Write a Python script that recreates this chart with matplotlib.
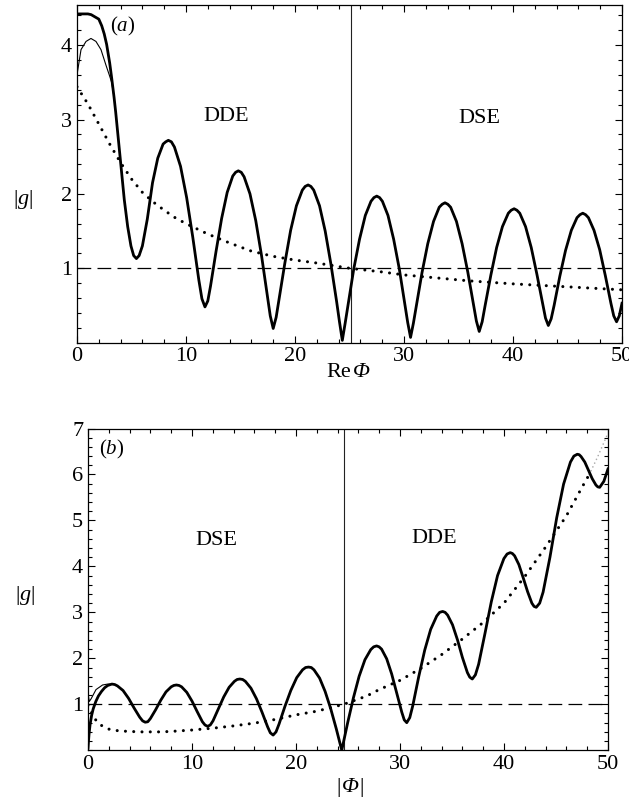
import matplotlib
matplotlib.use('Agg')
import matplotlib.pyplot as plt
from matplotlib.ticker import MultipleLocator

plt.rcParams['font.family'] = ['Liberation Serif', 'DejaVu Serif']
plt.rcParams['mathtext.fontset'] = 'custom'
plt.rcParams['mathtext.rm'] = 'Liberation Serif'
plt.rcParams['mathtext.it'] = 'Liberation Serif:italic'

# ---- panel (a) data: |g| against Re(Phi) ----
a_x = [0, 0.5, 1.0, 1.3, 1.65, 2.0, 2.27, 2.5, 2.72, 3.0, 3.18, 3.4, 3.55, 3.79, 4.04, 4.34, 4.65, 4.95, 5.2, 5.45,
       5.7, 6.0, 6.45, 6.93, 7.41, 7.9, 8.14, 8.38, 8.66, 8.94, 9.5, 10.06, 10.62, 11.18, 11.46, 11.74,
       12.0, 12.25, 12.76, 13.27, 13.78, 14.29, 14.55, 14.8, 15.07, 15.33, 15.87, 16.4, 16.93, 17.47, 17.73, 18.0,
       18.27, 18.53, 19.07, 19.6, 20.13, 20.67, 20.93, 21.2, 21.46, 21.72, 22.25, 22.77, 23.29, 23.82, 24.08, 24.34,
       24.6, 24.87, 25.39, 25.92, 26.45, 26.97, 27.24, 27.5, 27.76, 28.02, 28.53, 29.05, 29.57, 30.08, 30.34, 30.6,
       30.86, 31.13, 31.65, 32.18, 32.71, 33.23, 33.5, 33.76, 34.02, 34.28, 34.81, 35.33, 35.85, 36.38, 36.64, 36.9,
       37.17, 37.43, 37.97, 38.5, 39.03, 39.57, 39.83, 40.1, 40.36, 40.62, 41.15, 41.67, 42.19, 42.72, 42.98, 43.24,
       43.5, 43.77, 44.29, 44.82, 45.35, 45.87, 46.14, 46.4, 46.66, 46.92, 47.43, 47.95, 48.47, 48.98, 49.24, 49.5,
       49.75, 50.0]
a_g = [4.42, 4.42, 4.42, 4.41, 4.38, 4.35, 4.26, 4.15, 4.01, 3.76, 3.56, 3.3, 3.1, 2.74, 2.36, 1.92, 1.56, 1.3, 1.17, 1.13,
       1.17, 1.3, 1.66, 2.15, 2.48, 2.67, 2.70, 2.72, 2.70, 2.63, 2.37, 1.95, 1.42, 0.84, 0.59, 0.48,
       0.56, 0.76, 1.23, 1.67, 2.02, 2.24, 2.29, 2.31, 2.29, 2.23, 2.00, 1.64, 1.17, 0.63, 0.36, 0.19,
       0.34, 0.58, 1.07, 1.51, 1.84, 2.05, 2.10, 2.12, 2.10, 2.05, 1.84, 1.50, 1.06, 0.55, 0.28, 0.03,
       0.26, 0.51, 0.99, 1.39, 1.71, 1.90, 1.95, 1.97, 1.95, 1.90, 1.71, 1.39, 0.99, 0.51, 0.27, 0.07,
       0.26, 0.49, 0.94, 1.33, 1.63, 1.82, 1.86, 1.88, 1.86, 1.82, 1.63, 1.33, 0.95, 0.51, 0.29, 0.15,
       0.28, 0.49, 0.91, 1.28, 1.56, 1.74, 1.78, 1.80, 1.78, 1.74, 1.56, 1.28, 0.92, 0.52, 0.33, 0.23,
       0.32, 0.50, 0.89, 1.24, 1.51, 1.68, 1.72, 1.74, 1.72, 1.68, 1.51, 1.25, 0.90, 0.53, 0.36, 0.28,
       0.36, 0.53]
a_thin_x = [0, 0.37, 0.83, 1.28, 1.74, 2.2, 2.66, 2.96, 3.18, 3.4, 3.55]
a_thin_g = [3.6, 3.94, 4.05, 4.09, 4.05, 3.94, 3.73, 3.6, 3.5, 3.3, 3.1]
a_dot_x = [0, 1, 2, 3, 4, 5, 6, 7, 8, 9, 10, 12, 14, 16, 18, 20, 22, 25, 28, 30, 33, 36, 40, 45, 50]
a_dot_g = [3.44, 3.21, 2.94, 2.67, 2.42, 2.2, 2.02, 1.89, 1.78, 1.68, 1.60, 1.46, 1.34, 1.23, 1.16, 1.11, 1.07,
           1.00, 0.95, 0.91, 0.87, 0.83, 0.79, 0.75, 0.71]
a_split = 25.14

# ---- panel (b) data: |g| against |Phi| ----
b_x = [0, 0.1, 0.2, 0.35, 0.5, 0.75, 1.0, 1.3, 1.6, 1.9, 2.3, 2.57, 2.83, 3.37, 3.9, 4.43, 4.97, 5.25, 5.5,
       5.75, 6.0, 6.5, 7.0, 7.5, 8.0, 8.25, 8.5, 8.75, 9.0, 9.5, 10.0, 10.5, 11.0, 11.25, 11.5,
       11.76, 12.02, 12.53, 13.05, 13.57, 14.08, 14.34, 14.6, 14.87, 15.13, 15.67, 16.2, 16.73, 17.27, 17.53, 17.8,
       18.08, 18.37, 18.93, 19.5, 20.07, 20.63, 20.92, 21.2, 21.47, 21.73, 22.27, 22.8, 23.33, 23.87, 24.13, 24.4,
       24.68, 24.96, 25.52, 26.07, 26.63, 27.19, 27.47, 27.75, 27.99, 28.23, 28.72, 29.2, 29.68, 30.17, 30.41, 30.65,
       30.94, 31.23, 31.8, 32.38, 32.95, 33.53, 33.81, 34.1, 34.34, 34.58, 35.05, 35.53, 36.0, 36.48, 36.71, 36.95,
       37.25, 37.56, 38.17, 38.78, 39.38, 39.99, 40.3, 40.6, 40.81, 41.02, 41.43, 41.85, 42.27, 42.68, 42.89, 43.1,
       43.43, 43.76, 44.42, 45.07, 45.73, 46.39, 46.72, 47.05, 47.23, 47.41, 47.77, 48.13, 48.48, 48.84, 49.02, 49.2,
       49.6, 50.0]
b_g = [0.05, 0.35, 0.56, 0.76, 0.9, 1.06, 1.18, 1.28, 1.36, 1.41, 1.44, 1.43, 1.40, 1.30, 1.13, 0.92, 0.72, 0.64, 0.61,
       0.62, 0.69, 0.88, 1.09, 1.27, 1.38, 1.41, 1.42, 1.41, 1.38, 1.26, 1.07, 0.84, 0.62, 0.55, 0.52,
       0.55, 0.64, 0.90, 1.16, 1.37, 1.50, 1.54, 1.55, 1.54, 1.50, 1.35, 1.12, 0.83, 0.51, 0.38, 0.33,
       0.40, 0.57, 0.95, 1.30, 1.58, 1.75, 1.80, 1.81, 1.80, 1.75, 1.57, 1.28, 0.91, 0.47, 0.24, 0.0,
       0.30, 0.59, 1.14, 1.61, 1.97, 2.19, 2.25, 2.27, 2.25, 2.20, 1.99, 1.66, 1.25, 0.83, 0.66, 0.60,
       0.71, 0.97, 1.60, 2.18, 2.63, 2.92, 3.00, 3.02, 3.00, 2.94, 2.73, 2.40, 2.02, 1.69, 1.59, 1.55,
       1.64, 1.87, 2.54, 3.23, 3.80, 4.17, 4.27, 4.30, 4.28, 4.23, 4.04, 3.75, 3.45, 3.20, 3.13, 3.11,
       3.20, 3.44, 4.20, 5.06, 5.79, 6.27, 6.40, 6.44, 6.43, 6.39, 6.27, 6.09, 5.91, 5.77, 5.73, 5.72,
       5.85, 6.12]
b_thin_x = [0, 0.12, 0.3, 0.77, 1.4, 1.9, 2.3]
b_thin_g = [1.25, 1.06, 1.12, 1.32, 1.42, 1.44, 1.44]
b_dot_x = [0, 0.25, 0.5, 0.8, 1.1, 1.5, 2, 3, 4, 5, 6, 7, 8, 10, 12, 14, 16, 18, 20, 22, 24.6, 26.8, 28, 30,
           32, 34, 36, 38, 40, 42, 44, 46, 47.5, 48.2]
b_dot_g = [0.98, 0.86, 0.75, 0.64, 0.57, 0.51, 0.46, 0.42, 0.41, 0.40, 0.40, 0.40, 0.41, 0.44, 0.48, 0.53, 0.59,
           0.67, 0.77, 0.85, 1.0, 1.18, 1.32, 1.52, 1.78, 2.08, 2.42, 2.78, 3.2, 3.78, 4.42, 5.1, 5.72, 6.0]
b_gray_x = [48.2, 49, 50]
b_gray_g = [6.0, 6.38, 6.9]
b_split = 24.65

fig = plt.figure(figsize=(6.29, 8.05), dpi=100)
axa = fig.add_axes([0.1224, 0.5744, 0.8665, 0.4194])
axb = fig.add_axes([0.1399, 0.0680, 0.8267, 0.3997])

dot = (0, (0.01, 2.7))
for ax in (axa, axb):
    ax.axhline(1, color='black', lw=0.9, ls=(0, (11, 5)), zorder=2)
    ax.tick_params(which='both', direction='in', top=True, right=True, width=0.8, labelsize=16)
    ax.tick_params(which='major', length=5)
    ax.tick_params(which='minor', length=3)
    ax.xaxis.set_major_locator(MultipleLocator(10))
    ax.xaxis.set_minor_locator(MultipleLocator(2))
    ax.yaxis.set_major_locator(MultipleLocator(1))
    ax.yaxis.set_minor_locator(MultipleLocator(0.2))
    for s in ax.spines.values():
        s.set_linewidth(0.9)

# panel (a)
axa.plot(a_dot_x, a_dot_g, color='black', lw=2.2, ls=dot, dash_capstyle='round', zorder=3)
axa.plot(a_thin_x, a_thin_g, color='black', lw=0.8, zorder=4)
axa.plot(a_x, a_g, color='black', lw=2.0, zorder=5, solid_joinstyle='round')
axa.axvline(a_split, color='#222222', lw=0.8, zorder=2)
axa.set_xlim(0, 50)
axa.set_ylim(0, 4.54)
axa.set_yticks([1, 2, 3, 4])
axa.text(4.2, 4.25, '($a$)', fontsize=15, ha='center', va='center')
axa.text(13.7, 3.04, 'DDE', fontsize=16, ha='center', va='center')
axa.text(36.9, 3.02, 'DSE', fontsize=16, ha='center', va='center')
axa.text(0.503, -0.09, 'Re', transform=axa.transAxes, fontsize=16, ha='right', va='center')
axa.text(0.507, -0.09, 'Φ', transform=axa.transAxes, fontsize=16, ha='left', va='center', style='italic')
axa.text(-0.099, 0.425, '|$g$|', transform=axa.transAxes, fontsize=16, ha='center', va='center')

# panel (b)
axb.plot(b_dot_x, b_dot_g, color='black', lw=2.2, ls=dot, dash_capstyle='round', zorder=3)
axb.plot(b_gray_x, b_gray_g, color='#aaaaaa', lw=1.2, ls=(0, (0.01, 2.5)), dash_capstyle='round', zorder=3)
axb.plot(b_thin_x, b_thin_g, color='black', lw=0.8, zorder=4)
axb.plot(b_x, b_g, color='black', lw=2.0, zorder=5, solid_joinstyle='round')
axb.axvline(b_split, color='#222222', lw=0.8, zorder=2)
axb.set_xlim(0, 50)
axb.set_ylim(0, 7)
axb.set_yticks([1, 2, 3, 4, 5, 6, 7])
axb.text(2.28, 6.54, '($b$)', fontsize=15, ha='center', va='center')
axb.text(12.3, 4.56, 'DSE', fontsize=16, ha='center', va='center')
axb.text(33.3, 4.6, 'DDE', fontsize=16, ha='center', va='center')
axb.text(0.486, -0.117, '|', transform=axb.transAxes, fontsize=16, ha='right', va='center')
axb.text(0.504, -0.117, 'Φ', transform=axb.transAxes, fontsize=16, ha='center', va='center', style='italic')
axb.text(0.522, -0.117, '|', transform=axb.transAxes, fontsize=16, ha='left', va='center')
axb.text(-0.121, 0.48, '|$g$|', transform=axb.transAxes, fontsize=16, ha='center', va='center')

fig.savefig('out.png', dpi=100)
